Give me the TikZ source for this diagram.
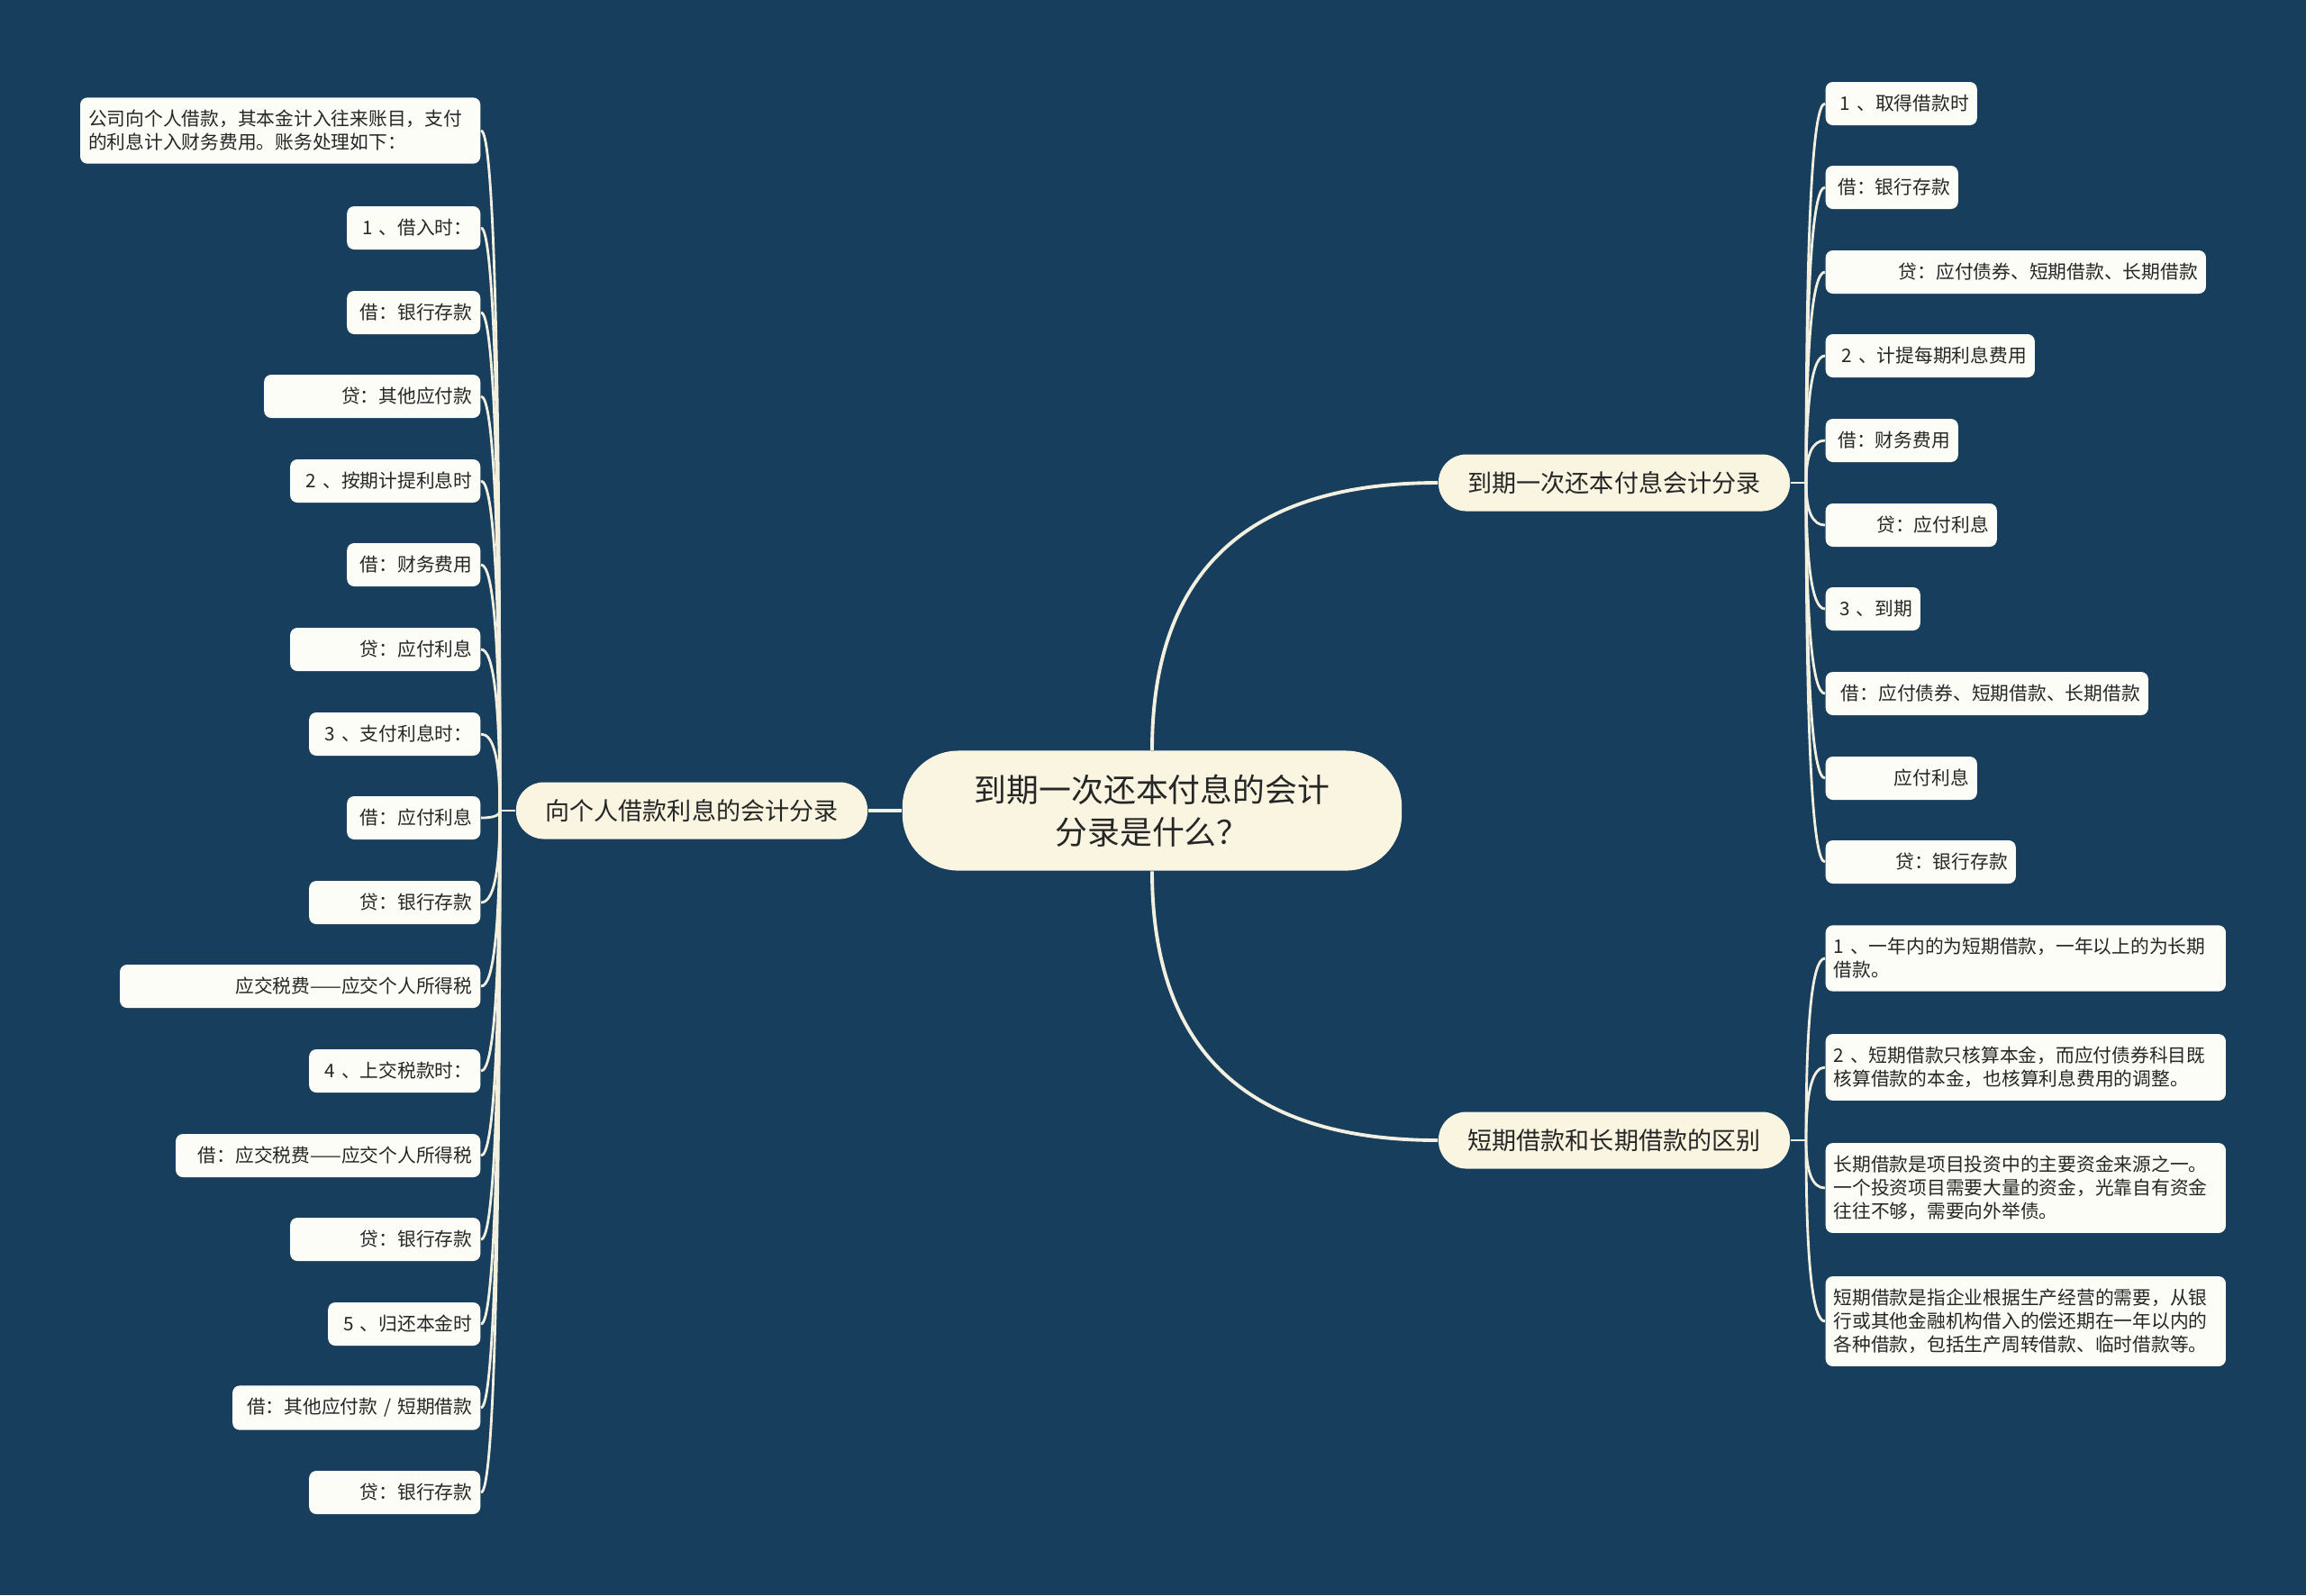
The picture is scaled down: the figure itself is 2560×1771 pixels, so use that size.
\documentclass[tikz,border=0pt]{standalone}
\usepackage{fontspec}
\setmainfont{Noto Sans CJK SC}
\usetikzlibrary{calc}
\definecolor{mapbg}{HTML}{183E5D}
\definecolor{mapcream}{HTML}{FAF5E1}
\definecolor{mapleaf}{HTML}{FDFDF7}
\definecolor{mapline}{HTML}{F3F0DF}
\definecolor{maptext}{HTML}{262626}
\newcommand{\rootfont}{\fontsize{10.2pt}{13.4pt}\selectfont}
\newcommand{\branchfont}{\fontsize{7.7pt}{9.5pt}\selectfont}
\newcommand{\leaffont}{\fontsize{5.9pt}{7.4pt}\selectfont}
% bend from #2 (leaving vertically) into #3 (arriving horizontally)
\newcommand{\bendlink}[3]{\draw[#1] (#2) .. controls ($(#2)!0.667!(#2 |- #3)$)
    and ($(#3)!0.667!(#2 |- #3)$) .. (#3);}

\begin{document}
\begin{tikzpicture}[x=0.01cm, y=-0.01cm,
    rootbox/.style={rectangle, rounded corners=0.62cm, fill=mapcream, text=maptext,
                    minimum width=5.54cm, minimum height=1.33cm, align=center, font=\rootfont},
    branchbox/.style={rectangle, rounded corners=0.31cm, fill=mapcream, text=maptext,
                      minimum width=3.9cm, minimum height=0.63cm, font=\branchfont},
    leafbox/.style={rectangle, rounded corners=0.08cm, fill=mapleaf, text=maptext,
                    inner xsep=0.09cm, inner ysep=0.14cm, minimum height=0.48cm,
                    text width=#1, font=\leaffont},
    leafL/.style={leafbox=#1, anchor=east, align=right},
    leafR/.style={leafbox=#1, anchor=west, align=right},
    mainlink/.style={draw=mapline, line width=1.1pt},
    link/.style={draw=mapline, line width=0.8pt}
]
\fill[mapbg] (0,0) rectangle (2560,1771);
\useasboundingbox (0,0) rectangle (2560,1771);

% centre and the three branches
\node[rootbox]   (root)     at (1279,900)  {到期一次还本付息的会计\\分录是什么？};
\node[branchbox] (personal) at (768,900)   {向个人借款利息的会计分录};
\node[branchbox] (lumpsum)  at (1792,536)  {到期一次还本付息会计分录};
\node[branchbox] (diff)     at (1792,1266) {短期借款和长期借款的区别};

\coordinate (hubP) at (555,900);
\coordinate (hubL) at (2005,536);
\coordinate (hubD) at (2005,1266);

% left side
\node[leafbox=4.26cm, anchor=east, align=left] (p0) at (534,145)
     {公司向个人借款，其本金计入往来账目，支付\\的利息计入财务费用。账务处理如下：};
\node[leafL=1.30cm] (p1)  at (534,253)  {1 、借入时：};
\node[leafL=1.30cm] (p2)  at (534,347)  {借：银行存款};
\node[leafL=2.22cm] (p3)  at (534,440)  {贷：其他应付款};
\node[leafL=1.93cm] (p4)  at (534,534)  {2 、按期计提利息时};
\node[leafL=1.30cm] (p5)  at (534,627)  {借：财务费用};
\node[leafL=1.93cm] (p6)  at (534,721)  {贷：应付利息};
\node[leafL=1.72cm] (p7)  at (534,815)  {3 、支付利息时：};
\node[leafL=1.30cm] (p8)  at (534,908)  {借：应付利息};
\node[leafL=1.72cm] (p9)  at (534,1002) {贷：银行存款};
\node[leafL=3.82cm] (p10) at (534,1095) {应交税费——应交个人所得税};
\node[leafL=1.72cm] (p11) at (534,1189) {4 、上交税款时：};
\node[leafL=3.20cm] (p12) at (534,1283) {借：应交税费——应交个人所得税};
\node[leafL=1.93cm] (p13) at (534,1376) {贷：银行存款};
\node[leafL=1.51cm] (p14) at (534,1470) {5 、归还本金时};
\node[leafL=2.57cm] (p15) at (534,1563) {借：其他应付款 / 短期借款};
\node[leafL=1.72cm] (p16) at (534,1657) {贷：银行存款};

% upper right
\node[leafR=1.50cm] (l1)  at (2026,115) {1 、取得借款时};
\node[leafR=1.29cm] (l2)  at (2026,208) {借：银行存款};
\node[leafR=4.04cm] (l3)  at (2026,302) {贷：应付债券、短期借款、长期借款};
\node[leafR=2.14cm] (l4)  at (2026,395) {2 、计提每期利息费用};
\node[leafR=1.29cm] (l5)  at (2026,489) {借：财务费用};
\node[leafR=1.72cm] (l6)  at (2026,583) {贷：应付利息};
\node[leafR=0.87cm] (l7)  at (2026,676) {3 、到期};
\node[leafR=3.40cm] (l8)  at (2026,770) {借：应付债券、短期借款、长期借款};
\node[leafR=1.50cm] (l9)  at (2026,864) {应付利息};
\node[leafR=1.93cm] (l10) at (2026,957) {贷：银行存款};

% lower right
\node[leafbox=4.26cm, anchor=west, align=left] (d1) at (2026,1064)
     {1 、一年内的为短期借款，一年以上的为长期\\借款。};
\node[leafbox=4.26cm, anchor=west, align=left] (d2) at (2026,1185)
     {2 、短期借款只核算本金，而应付债券科目既\\核算借款的本金，也核算利息费用的调整。};
\node[leafbox=4.26cm, anchor=west, align=left] (d3) at (2026,1319)
     {长期借款是项目投资中的主要资金来源之一。\\一个投资项目需要大量的资金，光靠自有资金\\往往不够，需要向外举债。};
\node[leafbox=4.26cm, anchor=west, align=left] (d4) at (2026,1467)
     {短期借款是指企业根据生产经营的需要，从银\\行或其他金融机构借入的偿还期在一年以内的\\各种借款，包括生产周转借款、临时借款等。};

% connectors
\draw[mainlink] (root.west) -- (personal.east);
\bendlink{mainlink}{root.north}{lumpsum.west}
\bendlink{mainlink}{root.south}{diff.west}
\draw[link] (personal.west) -- (hubP);
\draw[link] (lumpsum.east)  -- (hubL);
\draw[link] (diff.east)     -- (hubD);

\bendlink{link}{hubP}{p0.east}
\bendlink{link}{hubP}{p1.east}
\bendlink{link}{hubP}{p2.east}
\bendlink{link}{hubP}{p3.east}
\bendlink{link}{hubP}{p4.east}
\bendlink{link}{hubP}{p5.east}
\bendlink{link}{hubP}{p6.east}
\bendlink{link}{hubP}{p7.east}
\bendlink{link}{hubP}{p8.east}
\bendlink{link}{hubP}{p9.east}
\bendlink{link}{hubP}{p10.east}
\bendlink{link}{hubP}{p11.east}
\bendlink{link}{hubP}{p12.east}
\bendlink{link}{hubP}{p13.east}
\bendlink{link}{hubP}{p14.east}
\bendlink{link}{hubP}{p15.east}
\bendlink{link}{hubP}{p16.east}

\bendlink{link}{hubL}{l1.west}
\bendlink{link}{hubL}{l2.west}
\bendlink{link}{hubL}{l3.west}
\bendlink{link}{hubL}{l4.west}
\bendlink{link}{hubL}{l5.west}
\bendlink{link}{hubL}{l6.west}
\bendlink{link}{hubL}{l7.west}
\bendlink{link}{hubL}{l8.west}
\bendlink{link}{hubL}{l9.west}
\bendlink{link}{hubL}{l10.west}

\bendlink{link}{hubD}{d1.west}
\bendlink{link}{hubD}{d2.west}
\bendlink{link}{hubD}{d3.west}
\bendlink{link}{hubD}{d4.west}
\end{tikzpicture}
\end{document}
